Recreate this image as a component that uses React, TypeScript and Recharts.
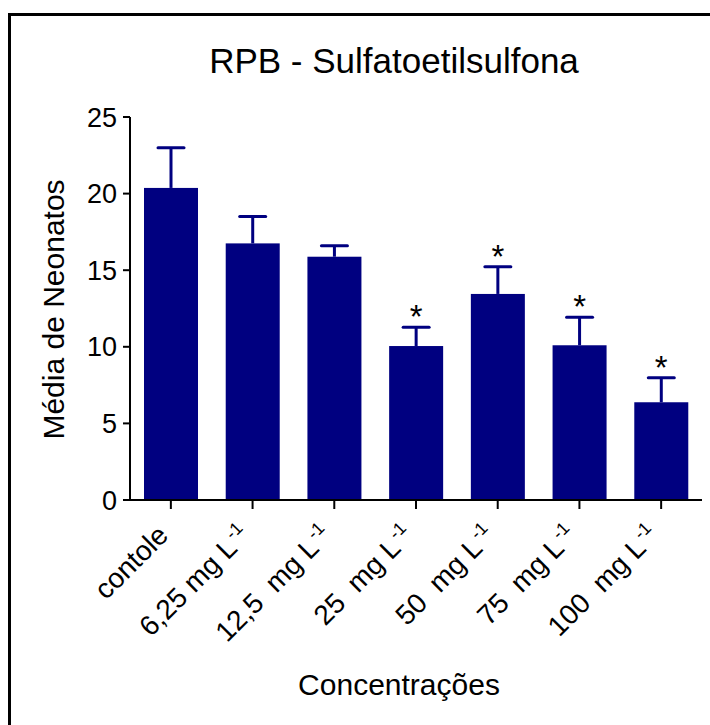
import { Bar, BarChart, LabelList, XAxis, YAxis } from 'recharts'

const FONT = '"Liberation Sans", Arial, sans-serif'
const NAVY = '#000080'

// concentration groups (label + superscript part)
const categories = ['contole', '6,25 mg L', '12,5  mg L', '25  mg L', '50  mg L', '75  mg L', '100  mg L']
const superscripts = ['', '-1', '-1', '-1', '-1', '-1', '-1']
// mean number of neonates and upper error (SD)
const means = [20.37, 16.75, 15.88, 10.05, 13.45, 10.1, 6.38]
const errors = [2.63, 1.75, 0.72, 1.22, 1.78, 1.83, 1.6]
const significant = [false, false, false, true, true, true, true]
const yTicks = [0, 5, 10, 15, 20, 25]

const data = categories.map((name, i) => ({ name, mean: means[i] }))

function ConcTick(props: any) {
  const { x, y, payload } = props
  const i = payload.index
  const ax = x - 1
  const ay = y + 28
  return (
    <text
      x={ax}
      y={ay}
      transform={`rotate(-45, ${ax}, ${ay})`}
      textAnchor="end"
      fontSize={28}
      fontFamily={FONT}
      fill="#000"
      style={{ whiteSpace: 'pre' }}
    >
      {categories[i]}
      {superscripts[i] ? (
        <tspan dx={2} dy={-11} fontSize={18}>
          {superscripts[i]}
        </tspan>
      ) : null}
    </text>
  )
}

// bar plus its upper SD whisker (Prism style, upper side only)
function BarWithError(props: any) {
  const { x, y, width, height, index } = props
  const perUnit = height / means[index]
  const topY = y - errors[index] * perUnit
  const cx = x + width / 2
  return (
    <g>
      <rect x={x} y={y} width={width} height={height} fill={NAVY} />
      <line x1={cx} x2={cx} y1={y} y2={topY} stroke={NAVY} strokeWidth={3} />
      <line
        x1={cx - 13}
        x2={cx + 13}
        y1={topY}
        y2={topY}
        stroke={NAVY}
        strokeWidth={3}
        strokeLinecap="round"
      />
    </g>
  )
}

// asterisk just above the error cap of the significant groups
function Star(props: any) {
  const { x, y, width, height, index } = props
  if (!significant[index]) return null
  const perUnit = height / means[index]
  const capY = y - errors[index] * perUnit
  return (
    <text
      x={x + width / 2}
      y={capY + 1}
      textAnchor="middle"
      fontSize={33}
      fontFamily={FONT}
      fill="#000"
    >
      *
    </text>
  )
}

export default function App() {
  return (
    <div
      style={{
        position: 'absolute',
        left: 0,
        top: 0,
        width: 710,
        height: 725,
        background: '#fff',
        overflow: 'hidden',
      }}
    >
      <div
        style={{
          position: 'absolute',
          left: 8,
          top: 13,
          width: 720,
          height: 740,
          borderLeft: '3px solid #000',
          borderTop: '3px solid #000',
        }}
      />
      <svg
        width={710}
        height={725}
        style={{ position: 'absolute', left: 0, top: 0, pointerEvents: 'none' }}
      >
        <text x={394} y={73} textAnchor="middle" fontSize={35} fontFamily={FONT} fill="#000">
          RPB - Sulfatoetilsulfona
        </text>
      </svg>
      <div style={{ position: 'absolute', left: 0, top: 0 }}>
        <BarChart
          width={710}
          height={725}
          data={data}
          margin={{ top: 117, right: 8, bottom: 0, left: 0 }}
        >
          <XAxis
            dataKey="name"
            interval={0}
            height={225}
            tickSize={9}
            tickMargin={0}
            axisLine={{ stroke: '#000', strokeWidth: 2 }}
            tickLine={{ stroke: '#000', strokeWidth: 2 }}
            tick={<ConcTick />}
            label={{
              content: ({ viewBox }: any) => (
                <text
                  x={viewBox.x + viewBox.width / 2 - 17}
                  y={viewBox.y + 195}
                  textAnchor="middle"
                  fontSize={30}
                  fontFamily={FONT}
                  fill="#000"
                >
                  Concentrações
                </text>
              ),
            }}
          />
          <YAxis
            width={130}
            domain={[0, 25]}
            ticks={yTicks}
            tickSize={7}
            tickMargin={6}
            axisLine={{ stroke: '#000', strokeWidth: 2 }}
            tickLine={{ stroke: '#000', strokeWidth: 2 }}
            tick={{ fontSize: 27, fill: '#000', fontFamily: FONT }}
            label={{
              content: ({ viewBox }: any) => {
                const cx = 64
                const cy = viewBox.y + viewBox.height / 2 + 1
                return (
                  <text
                    x={cx}
                    y={cy}
                    transform={`rotate(-90, ${cx}, ${cy})`}
                    textAnchor="middle"
                    fontSize={30}
                    fontFamily={FONT}
                    fill="#000"
                  >
                    Média de Neonatos
                  </text>
                )
              },
            }}
          />
          <Bar
            dataKey="mean"
            fill={NAVY}
            barSize={54}
            shape={<BarWithError />}
            isAnimationActive={false}
          >
            <LabelList dataKey="mean" content={<Star />} />
          </Bar>
        </BarChart>
      </div>
    </div>
  )
}
